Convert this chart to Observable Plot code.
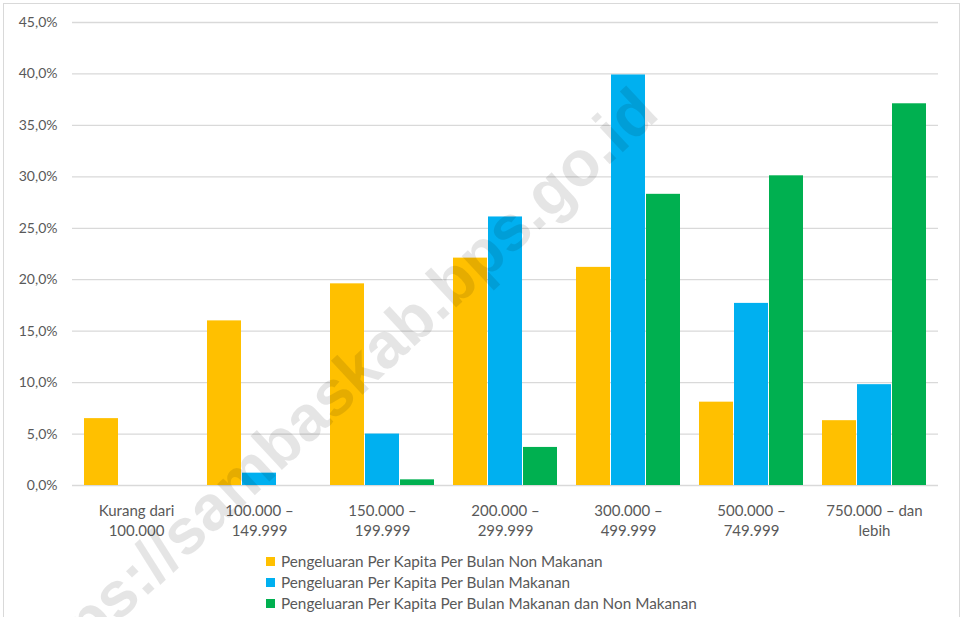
<!DOCTYPE html>
<html>
<head>
<meta charset="utf-8">
<script src="https://cdn.jsdelivr.net/npm/d3@7"></script>
<script src="https://cdn.jsdelivr.net/npm/@observablehq/plot@0.6"></script>
<style>
  body { margin: 0; background: #fff; font-family: Lato, "Noto Sans", sans-serif; }
  #wrap { position: relative; width: 964px; height: 617px; overflow: hidden; }
  #frame { position: absolute; left: 3px; top: 3px; width: 957px; height: 640px; border: 1px solid #d9d9d9; box-sizing: border-box; }
  .layer { position: absolute; left: 0; top: 0; }
  #legend { position: absolute; left: 266px; top: 551px; font-size: 15.3px; color: #595959; line-height: 21px; }
  #legend div { display: flex; align-items: center; white-space: nowrap; }
  #legend span.sw { display: inline-block; width: 9px; height: 9px; margin-right: 6px; }
  #watermark { position: absolute; left: 330px; top: 395px; transform: translate(-50%, -50%) rotate(-43deg);
    font: bold 64px "Liberation Sans", Arial, sans-serif; line-height: 1; white-space: nowrap;
    color: rgba(0, 0, 0, 0.1); pointer-events: none; }
</style>
</head>
<body>
<div id="wrap">
  <div id="frame"></div>
  <div id="back" class="layer"></div>
  <div id="front" class="layer"></div>
  <div id="legend"></div>
  <div id="watermark"></div>
</div>
<script>
const categories = [
  "Kurang dari\n100.000",
  "100.000 –\n149.999",
  "150.000 –\n199.999",
  "200.000 –\n299.999",
  "300.000 –\n499.999",
  "500.000 –\n749.999",
  "750.000 – dan\nlebih"
];
const seriesNames = [
  "Pengeluaran Per Kapita Per Bulan Non Makanan",
  "Pengeluaran Per Kapita Per Bulan Makanan",
  "Pengeluaran Per Kapita Per Bulan Makanan dan Non Makanan"
];
const colors = ["#FFC000", "#00B0F0", "#00B050"];
const nonMakanan = [6.5, 16.0, 19.6, 22.1, 21.2, 8.1, 6.3];
const makanan = [0, 1.2, 5.0, 26.1, 39.9, 17.7, 9.8];
const makananDanNon = [0, 0, 0.55, 3.7, 28.3, 30.1, 37.1];
const yTicks = [0, 5, 10, 15, 20, 25, 30, 35, 40, 45];
const watermark = "https://sambaskab.bps.go.id";

const seriesValues = [nonMakanan, makanan, makananDanNon];
const data = [];
categories.forEach((c, i) => {
  seriesNames.forEach((s, j) => data.push({cat: c, series: s, value: seriesValues[j][i]}));
});

const fmt = d => d.toFixed(1).replace(".", ",") + "%";
const W = 964, H = 545, MT = 22, MB = 60;

// Background layer: gridlines and y axis spanning the full plot width
const back = Plot.plot({
  width: W, height: H, marginTop: MT, marginBottom: MB, marginLeft: 72, marginRight: 26,
  style: {fontFamily: "Lato, 'Noto Sans', sans-serif", fontSize: "14px", color: "#595959", background: "transparent"},
  x: {domain: [0, 1], axis: null},
  y: {domain: [0, 45], label: null},
  marks: [
    Plot.gridY(yTicks, {stroke: "#d9d9d9", strokeOpacity: 1, strokeWidth: 1.3}),
    Plot.axisY(yTicks, {tickSize: 0, tickPadding: 15, tickFormat: fmt, label: null, fill: "#595959"})
  ]
});
document.getElementById("back").appendChild(back);

// Front layer: grouped bars with category axis
const front = Plot.plot({
  width: W, height: H, marginTop: MT, marginBottom: MB, marginLeft: 82, marginRight: 35,
  style: {fontFamily: "Lato, 'Noto Sans', sans-serif", fontSize: "15px", color: "#595959", background: "transparent"},
  fx: {domain: categories, paddingInner: 0.151, paddingOuter: 0, label: null, axis: null},
  x: {domain: seriesNames, paddingInner: 0.03, paddingOuter: 0, axis: null},
  y: {domain: [0, 45], axis: null},
  color: {domain: seriesNames, range: colors},
  marks: [
    Plot.axisFx({anchor: "bottom", tickSize: 0, tickPadding: 16, lineHeight: 1.33, label: null, fill: "#595959"}),
    Plot.barY(data, {fx: "cat", x: "series", y: "value", fill: "series"})
  ]
});
document.getElementById("front").appendChild(front);

document.getElementById("watermark").textContent = watermark;

const legend = document.getElementById("legend");
seriesNames.forEach((s, i) => {
  const row = document.createElement("div");
  const sw = document.createElement("span");
  sw.className = "sw";
  sw.style.background = colors[i];
  row.appendChild(sw);
  row.appendChild(document.createTextNode(s));
  legend.appendChild(row);
});
</script>
</body>
</html>
